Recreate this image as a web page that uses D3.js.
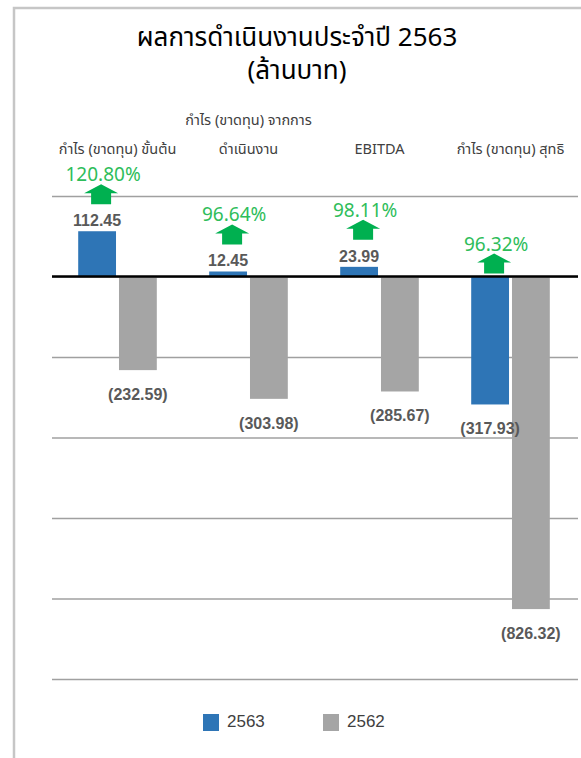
<!DOCTYPE html>
<html>
<head>
<meta charset="utf-8">
<script src="https://cdn.jsdelivr.net/npm/d3@7"></script>
<style>
  html, body { margin: 0; padding: 0; background: #fff; }
  svg { display: block; }
</style>
</head>
<body>
<div id="chart"></div>
<script>
// chart values
var titleLines = ["ผลการดำเนินงานประจำปี 2563", "(ล้านบาท)"];
var categories = ["gross", "operating", "ebitda", "net"];
var categoryLabels = [
    ["กำไร (ขาดทุน) ขั้นต้น"],
    ["กำไร (ขาดทุน) จากการ", "ดำเนินงาน"],
    ["EBITDA"],
    ["กำไร (ขาดทุน) สุทธิ"]
];
var seriesNames = ["2563", "2562"];
var values2563 = [112.45, 12.45, 23.99, -317.93];
var values2562 = [-232.59, -303.98, -285.67, -826.32];
var changePct = [120.80, 96.64, 98.11, 96.32];
var yTicks = [200, 0, -200, -400, -600, -800, -1000];

var colors = {"2563": "#2e75b6", "2562": "#a5a5a5"};
var thaiFont = "Tahoma, 'Leelawadee UI', 'Noto Sans Thai', 'Noto Sans', sans-serif";

var width = 581, height = 758;
var margin = {left: 52, right: 5};
var gridRight = 578;

var svg = d3.select("#chart").append("svg")
    .attr("width", width)
    .attr("height", height);

// frame of the chart area
svg.append("rect")
    .attr("x", 14).attr("y", 8)
    .attr("width", 700).attr("height", 900)
    .attr("fill", "#fff")
    .attr("stroke", "#c6c6c6")
    .attr("stroke-width", 2.5);

// title
svg.selectAll("text.title")
    .data(titleLines)
    .enter().append("text")
    .attr("class", "title")
    .attr("x", 297)
    .attr("y", function(d, i) { return 46 + i*33; })
    .attr("text-anchor", "middle")
    .style("font-family", thaiFont)
    .style("font-size", "26px")
    .style("fill", "#000")
    .text(function(d) { return d; });

// scales
var x0 = d3.scaleBand()
    .domain(categories)
    .range([margin.left, width - margin.right])
    .paddingInner(0.4)
    .paddingOuter(0.2);

var x1 = d3.scaleBand()
    .domain(seriesNames)
    .range([0, x0.bandwidth()])
    .paddingInner(0.073);

var y = d3.scaleLinear()
    .domain([-1000, 200])
    .range([679, 196]);

// gridlines
var y_axis = d3.axisLeft(y)
    .tickValues(yTicks)
    .tickSize(-(gridRight - margin.left))
    .tickFormat("");

var grid = svg.append("g")
    .attr("transform", "translate(" + margin.left + ",0)")
    .call(y_axis);
grid.select(".domain").remove();
grid.selectAll(".tick line")
    .attr("stroke", "#a0a0a0")
    .attr("stroke-width", 1.3);

// bars
var rows = categories.map(function(c, i) {
    return {cat: c, vals: [
        {s: "2563", v: values2563[i]},
        {s: "2562", v: values2562[i]}
    ]};
});

var groups = svg.selectAll("g.cat")
    .data(rows)
    .enter().append("g")
    .attr("class", "cat")
    .attr("transform", function(d) { return "translate(" + x0(d.cat) + ",0)"; });

groups.selectAll("rect")
    .data(function(d) { return d.vals; })
    .enter().append("rect")
    .attr("x", function(d) { return x1(d.s); })
    .attr("width", x1.bandwidth())
    .attr("y", function(d) { return y(Math.max(0, d.v)); })
    .attr("height", function(d) { return Math.abs(y(d.v) - y(0)); })
    .attr("fill", function(d) { return colors[d.s]; });

// value labels
function fmt(v) {
    var s = d3.format(".2f")(Math.abs(v));
    return v < 0 ? "(" + s + ")" : s;
}

groups.selectAll("text.val")
    .data(function(d) { return d.vals; })
    .enter().append("text")
    .attr("class", "val")
    .attr("x", function(d) { return x1(d.s) + x1.bandwidth()/2; })
    .attr("y", function(d) { return d.v >= 0 ? y(d.v) - 5 : y(d.v) + 30; })
    .attr("text-anchor", "middle")
    .style("font-family", "'Liberation Sans', Arial, sans-serif")
    .style("font-weight", "bold")
    .style("font-size", "16px")
    .style("fill", "#595959")
    .text(function(d) { return fmt(d.v); });

// zero line
svg.append("line")
    .attr("x1", margin.left).attr("x2", gridRight)
    .attr("y1", y(0)).attr("y2", y(0))
    .attr("stroke", "#000")
    .attr("stroke-width", 2.5);

// green up arrows with percentage change
var arrowW = 34, arrowH = 20, headH = 9, shaftW = 20;
var arrowPath = "M0," + (-arrowH) +
    "L" + (arrowW/2) + "," + (-arrowH + headH) +
    "L" + (shaftW/2) + "," + (-arrowH + headH) +
    "L" + (shaftW/2) + ",0" +
    "L" + (-shaftW/2) + ",0" +
    "L" + (-shaftW/2) + "," + (-arrowH + headH) +
    "L" + (-arrowW/2) + "," + (-arrowH + headH) + "Z";

var arrows = svg.selectAll("g.arrow")
    .data(categories)
    .enter().append("g")
    .attr("class", "arrow")
    .attr("transform", function(c, i) {
        var v = values2563[i];
        var cx = x0(c) + x1("2563") + x1.bandwidth()/2 + 4;
        var base = v >= 0 ? y(v) - 27 : y(0) - 3;
        return "translate(" + cx + "," + base + ")";
    });

arrows.append("path")
    .attr("d", arrowPath)
    .attr("fill", "#00b050");

arrows.append("text")
    .attr("x", 2)
    .attr("y", -arrowH - 3)
    .attr("text-anchor", "middle")
    .style("font-family", "'Noto Sans', 'Open Sans', sans-serif")
    .style("font-size", "19px")
    .style("fill", "#2ebd5a")
    .text(function(c, i) { return d3.format(".2f")(changePct[i]) + "%"; });

// category labels at the top
var catText = svg.selectAll("text.cat")
    .data(categories)
    .enter().append("text")
    .attr("class", "cat")
    .attr("text-anchor", "middle")
    .style("font-family", thaiFont)
    .style("font-size", "14.5px")
    .style("fill", "#404040");

catText.selectAll("tspan")
    .data(function(c, i) {
        var lines = categoryLabels[i];
        return lines.map(function(t, j) {
            return {t: t, x: x0(c) + x0.bandwidth()/2, y: 154 - (lines.length - 1 - j) * 29};
        });
    })
    .enter().append("tspan")
    .attr("x", function(d) { return d.x; })
    .attr("y", function(d) { return d.y; })
    .text(function(d) { return d.t; });

// legend
var legend = svg.selectAll("g.legend")
    .data(seriesNames)
    .enter().append("g")
    .attr("class", "legend")
    .attr("transform", function(d, i) { return "translate(" + (203 + i*120) + ",714)"; });

legend.append("rect")
    .attr("width", 16).attr("height", 17)
    .attr("fill", function(d) { return colors[d]; });

legend.append("text")
    .attr("x", 24)
    .attr("y", 12.5)
    .style("font-family", "'Liberation Sans', Arial, sans-serif")
    .style("font-size", "17px")
    .style("fill", "#404040")
    .text(function(d) { return d; });
</script>
</body>
</html>
